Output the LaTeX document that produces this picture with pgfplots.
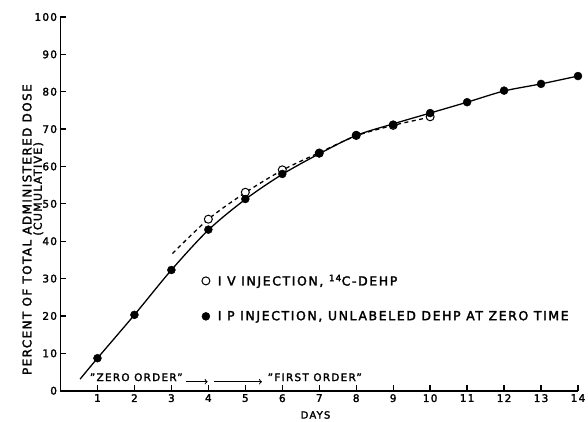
\documentclass[border=0pt]{standalone}
\usepackage{fontspec}
\setmainfont{DejaVu Sans}[LetterSpace=12,FakeBold=2.2]
\usepackage{pgfplots}
\pgfplotsset{compat=1.18}
\usetikzlibrary{calc}

\begin{document}
\begin{tikzpicture}
  \begin{axis}[scale only axis,width=517.5bp,height=373.7bp,
    xmin=0,xmax=14,ymin=0,ymax=100,
    axis lines=left,axis line style={-,line width=1.6bp},
    tick align=inside,major tick length=6bp,tick style={line width=1.3bp,black},
    xtick={1,...,14},ytick={0,10,...,100},
    /pgf/number format/assume math mode=true,
    ticklabel style={font=\fontsize{10.5}{12}\selectfont},
    clip=false,
    legend style={draw=none,fill=none,at={(axis cs:3.82,31.6)},anchor=north west,
      row sep=20bp,column sep=6bp,font=\fontsize{12.5}{14}\selectfont\addfontfeature{LetterSpace=13},inner sep=0pt},
    legend cell align=left]
    \addplot[only marks,mark=*,mark size=4bp,mark options={fill=white,draw=black,line width=1bp}]
      coordinates {(4,45.9) (5,53.1) (6,59.1) (7,63.6) (8,68.3) (9,71.0) (10,73.3)};
    \addlegendentry{I V INJECTION, \textsuperscript{14}C-DEHP}
    \addplot[only marks,mark=*,mark size=4bp,mark options={fill=black,draw=black}]
      coordinates {(1,8.7) (2,20.3) (3,32.3) (4,43.1) (5,51.3) (6,58.0) (7,63.5) (8,68.4) (9,71.2) (10,74.3) (11,77.2) (12,80.3) (13,82.1) (14,84.2)};
    \addlegendentry{I P INJECTION, UNLABELED DEHP AT ZERO TIME}
    % fitted curves
    \addplot[forget plot,smooth,line width=1.3bp] coordinates {(0.53,3.1) (1,8.7) (2,20.3) (3,32.3) (4,43.0) (5,51.2) (6,57.9) (7,63.4) (8,68.3) (9,71.4) (10,74.3) (11,77.2) (12,80.2) (13,82.1) (14,84.2)};
    \addplot[forget plot,smooth,line width=1.3bp,dash pattern=on 4bp off 3.5bp] coordinates {(3.03,36.7) (4,45.9) (5,53.0) (6,59.0) (7,63.7) (8,68.2) (9,71.0) (10,73.2)};
    \coordinate (O) at (axis cs:0,0);
    \node[font=\fontsize{10.5}{12}\selectfont] at (axis cs:2.05,3.6) {"ZERO ORDER"};
    \draw[->,line width=1bp] (axis cs:3.4,2.4) -- (axis cs:3.98,2.4);
    \draw[->,line width=1bp] (axis cs:4.15,2.4) -- (axis cs:5.45,2.4);
    \node[font=\fontsize{10.5}{12}\selectfont,anchor=west,inner sep=0pt] at (axis cs:5.6,3.6) {"FIRST ORDER"};
    \node[font=\fontsize{10}{12}\selectfont] at (axis cs:6.9,-6.5) {DAYS};
    \node[rotate=90,font=\fontsize{12}{14}\selectfont] at (axis cs:-0.905,43.1) {PERCENT OF TOTAL ADMINISTERED DOSE};
    \node[rotate=90,font=\fontsize{11}{13}\selectfont] at (axis cs:-0.6,54) {(CUMULATIVE)};
  \end{axis}
  \pgfresetboundingbox
  \path[use as bounding box] ($(O)+(-60.5bp,-31.3bp)$) rectangle ($(O)+(527.5bp,390.7bp)$);
\end{tikzpicture}
\end{document}
